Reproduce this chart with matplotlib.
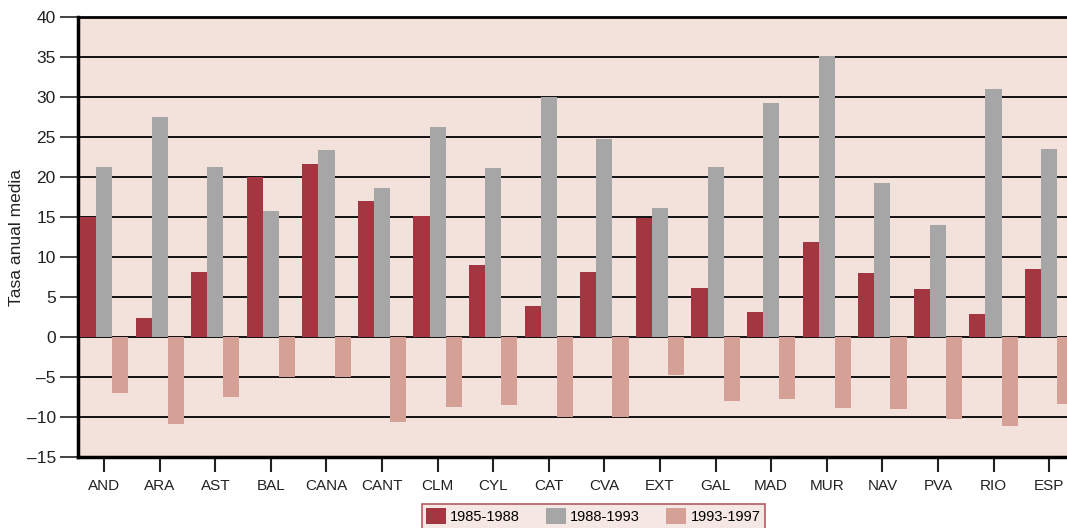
import numpy as np
import matplotlib.pyplot as plt

plt.rcParams['font.family'] = ['Liberation Sans', 'DejaVu Sans']

regions = ["AND", "ARA", "AST", "BAL", "CANA", "CANT", "CLM", "CYL", "CAT",
           "CVA", "EXT", "GAL", "MAD", "MUR", "NAV", "PVA", "RIO", "ESP"]

tasa_85_88 = [15.0, 2.4, 8.1, 20.0, 21.7, 17.0, 15.1, 9.0, 3.9,
              8.1, 14.9, 6.2, 3.1, 11.9, 8.0, 6.0, 2.9, 8.5]
tasa_88_93 = [21.3, 27.5, 21.3, 15.8, 23.4, 18.7, 26.3, 21.2, 30.0,
              24.8, 16.2, 21.3, 29.3, 35.2, 19.3, 14.0, 31.0, 23.6]
tasa_93_97 = [-7.0, -10.9, -7.5, -5.0, -5.0, -10.6, -8.7, -8.5, -10.0,
              -10.0, -4.8, -8.0, -7.8, -8.9, -9.0, -10.3, -11.1, -8.4]

series_labels = ["1985-1988", "1988-1993", "1993-1997"]
colors = ["#a33640", "#a6a6a6", "#d5a095"]
bg = "#f3e2dc"

fig = plt.figure(figsize=(10.67, 5.28), dpi=100)
ax = fig.add_axes([0.0731, 0.1345, 0.9346, 0.8324])
ax.set_facecolor(bg)

x = np.arange(len(regions))
w = 0.29
for k, vals in enumerate([tasa_85_88, tasa_88_93, tasa_93_97]):
    ax.bar(x + (k - 1) * w, vals, width=w, color=colors[k],
           label=series_labels[k], zorder=3)

ax.set_xlim(-0.47, 17.47)
ax.set_ylim(-15, 40)
ax.set_yticks(np.arange(-15, 41, 5))
ax.set_yticklabels([str(v).replace("-", "\u2013") for v in range(-15, 41, 5)])
ax.set_xticks(x)
ax.set_xticklabels(regions)

ax.grid(axis="y", color="black", linewidth=1.3, zorder=1)
ax.set_axisbelow(True)

for s in ["left", "bottom"]:
    ax.spines[s].set_linewidth(2.5)
ax.spines["top"].set_linewidth(2.0)
ax.spines["right"].set_visible(False)

ax.tick_params(axis="y", direction="out", length=13, width=1.2, labelsize=12.5, pad=3, colors="#222222")
ax.tick_params(axis="x", direction="out", length=11, width=1.5, labelsize=11, pad=5, colors="#222222")

ax.set_ylabel("Tasa anual media", fontsize=12.5, color="#222222", labelpad=2)

leg = fig.legend(loc="upper center", bbox_to_anchor=(0.556, 0.06), ncol=3,
                 fontsize=10.5, frameon=True, fancybox=False,
                 handlelength=1.35, handleheight=1.35, handletextpad=0.3,
                 columnspacing=1.8, borderpad=0.3)
leg.get_frame().set_facecolor(bg)
leg.get_frame().set_edgecolor("#a33640")
leg.get_frame().set_linewidth(1.2)

fig.savefig("out.png", dpi=100)
